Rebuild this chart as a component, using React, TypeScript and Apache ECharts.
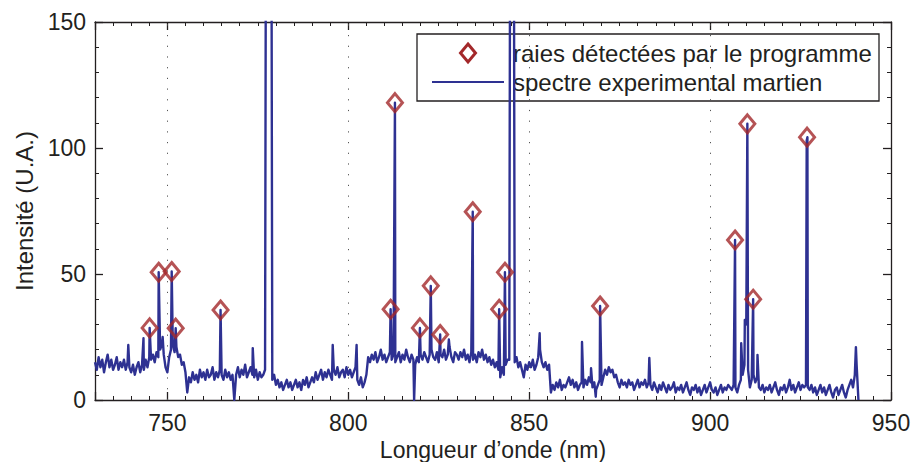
import { useEffect, useRef } from "react";
import * as echarts from "echarts";

// ---------- data ----------
const X_MIN = 730;
const X_MAX = 950;
const Y_MIN = 0;
const Y_MAX = 150;
const xLabelValues = [750, 800, 850, 900, 950];
const xMajorTicks = [730, 750, 800, 850, 900, 950];
const yLabelValues = [0, 50, 100, 150];
const yMajorTicks = [0, 50, 100, 150];
const xGridLines = [750, 800, 850, 900];
const STEP = 0.5; // nm between baseline samples

// baseline of the spectrum, sampled every 0.5 nm from each segment start
const base730 = [15, 12, 17, 13, 16, 11, 15, 18, 13, 16, 12, 14, 17, 12, 15, 13, 16, 12, 15];
const base739 = [13, 11, 14, 10, 13, 15, 11, 14, 12, 16, 13, 17];
const base745 = [16, 18, 15, 19, 17, 20, 22, 18, 13, 11];
const base750 = [17, 20, 22, 19, 21, 17, 18, 14, 15, 11];
const base755 = [3, 9, 7, 11, 8, 10, 7, 12, 9, 11, 8, 12, 9, 10, 13, 8, 11, 9, 12, 10];
const base765 = [8, 12, 9, 11, 8, 10, 0, 10, 13, 9, 12, 10, 14, 9, 11, 13, 10, 9, 12, 8, 11, 9, 10, 12];
const base777 = [400, 400, 400, 8, 10, 6, 8, 5, 7, 4, 6, 8, 5, 7, 4, 6, 8, 5, 7, 4, 8, 6, 9, 5, 7];
const base790 = [9, 7, 11, 8, 10, 12, 8, 11, 9, 12, 10, 8, 12, 10, 13, 9, 11, 12, 9, 13, 10, 12, 9, 11, 13];
const base802 = [8, 6, 9, 5, 7, 10];
const base805 = [17, 15, 18, 16, 19, 15, 17, 20, 16, 18, 15, 17, 19, 16, 18, 15];
const base813 = [17, 19, 15, 18, 16, 20, 17, 15, 18, 16, 14, 17, 15];
const base820 = [18, 16, 19, 17, 15, 18, 20, 17, 16, 19, 15, 18, 17, 20, 16, 18, 21, 17, 15, 19, 18, 16, 19, 17, 20, 16, 18, 15, 19];
const base834 = [16, 18, 15, 19, 17, 20, 16, 18, 15, 17, 14, 16, 13, 15];
const base841 = [12, 9, 13, 10, 14, 16];
const base844 = [16, 400, 400, 15, 17, 13, 15, 12, 9, 14, 12, 15, 13, 16, 12, 14, 17, 20, 15, 13, 15, 12, 14];
const base856 = [3, 6, 4, 7, 5, 8, 4, 6, 5, 7, 9, 6, 8, 5, 7, 4, 6];
const base864 = [7, 5, 8, 6, 9, 7, 5, 7, 4, 6];
const base869 = [8, 6, 9, 12, 10, 13, 11, 12, 9, 10];
const base874 = [7, 5, 8, 6, 7, 5, 8, 6, 7, 4, 6, 8, 5, 7, 6, 8, 5, 7];
const base883 = [6, 4, 7, 5, 3, 6, 4, 7, 5, 3, 6, 4, 5, 7, 3, 5, 4, 6, 3, 5, 7, 4, 2, 5, 4, 6, 3, 5, 2, 4, 6, 3, 5, 7, 4, 3, 5, 2, 4, 6, 3, 5, 4, 6, 5];
const base906 = [4, 6, 5, 3, 6, 8, 10, 14, 30, 12, 5, 8, 10, 7, 9, 5, 4];
const base914 = [6, 3, 5, 4, 6, 3, 5, 7, 4, 2, 5, 4, 6, 3, 5, 8, 4, 6, 3, 5, 7, 4, 6, 5];
const base926 = [6, 5, 4, 6, 3, 5, 2, 4, 6, 3, 5, 2, 4, 6, 3, 1, 4, 5, 2, 4, 6, 3, 1, 4, 6, 8, 5, 10, 14, 0];

const baselineSegments: [number, number[]][] = [
  [730, base730], [739.5, base739], [745.5, base745], [750.5, base750],
  [755.5, base755], [765.5, base765], [777.5, base777], [790, base790],
  [802.5, base802], [805.5, base805], [813.5, base813], [820, base820],
  [834.5, base834], [841.5, base841], [844.5, base844], [856, base856],
  [864.5, base864], [869.5, base869], [874.5, base874], [883.5, base883],
  [906, base906], [914.5, base914], [926.5, base926],
];

// narrow emission lines (and a few dips) of the spectrum: [wavelength nm, intensity]
const emissionLines: [number, number][] = [
  [739.2, 21.8], [743.4, 24.5], [745.1, 28.6], [747.6, 50.7], [748.7, 25],
  [751.2, 51], [752.3, 28.5], [764.7, 35.7], [773.6, 20.6], [795.7, 21.8],
  [802.3, 21.8], [811.7, 36], [812.9, 118], [818.2, 0], [819.8, 28.6],
  [822.8, 45.3], [825.4, 26], [827.8, 24], [834.4, 74.7], [841.7, 36],
  [843.3, 50.7], [852.9, 26.5], [864.6, 23], [867.1, 12.6], [868.4, 1.3],
  [869.6, 37.3], [883.2, 16.7], [906.9, 63.5], [908.6, 22.5], [909.6, 31.8],
  [910.3, 109.6], [911.9, 40], [913.1, 17.9], [926.7, 103], [926.9, 104.3],
  [940.3, 21],
];

// lines detected by the program (diamonds)
const detectedLines: [number, number][] = [
  [745.1, 28.6], [747.6, 50.7], [751.2, 51], [752.3, 28.5], [764.7, 35.7],
  [811.7, 36], [812.9, 118], [819.8, 28.6], [822.8, 45.3], [825.4, 26],
  [834.4, 74.7], [841.7, 36], [843.3, 50.7], [869.6, 37.3], [906.9, 63.5],
  [910.3, 109.6], [911.9, 40], [926.8, 104.3],
];

const legendNames = ["raies détectées par le programme", "spectre experimental martien"];

function buildSpectrum(): [number, number][] {
  const pts: [number, number][] = [];
  for (const [start, vals] of baselineSegments) {
    vals.forEach((v, i) => pts.push([start + i * STEP, v]));
  }
  for (const p of emissionLines) pts.push([p[0], p[1]]);
  pts.sort((a, b) => a[0] - b[0]);
  return pts;
}

// ---------- styles ----------
const FONT = "'Liberation Sans', Arial, Helvetica, sans-serif";
const AXIS = "#231f20";
const BLUE = "#2e3192";
const RED = "#a3282a";

function xAxisDef(pos: "top" | "bottom", major: boolean, labels: boolean) {
  return {
    type: "value",
    position: pos,
    min: X_MIN,
    max: X_MAX,
    ...(major ? {} : { interval: 5 }),
    axisLine: { show: !major, onZero: false, lineStyle: { color: AXIS, width: 1.3 } },
    axisTick: major
      ? { show: true, inside: true, length: 8, customValues: xMajorTicks, lineStyle: { color: AXIS, width: 1.3 } }
      : { show: true, inside: true, length: 4, lineStyle: { color: AXIS, width: 1 } },
    axisLabel: labels
      ? {
          show: true,
          margin: 11,
          fontSize: 23,
          fontFamily: FONT,
          color: AXIS,
          formatter: (v: number) => (xLabelValues.includes(Math.round(v)) && Math.abs(v - Math.round(v)) < 1e-6 ? String(Math.round(v)) : ""),
        }
      : { show: false },
    splitLine: { show: false },
    ...(labels
      ? {
          name: "Longueur d’onde (nm)",
          nameLocation: "middle",
          nameGap: 35,
          nameTextStyle: { fontSize: 23, fontFamily: FONT, color: AXIS },
        }
      : {}),
  };
}

function yAxisDef(pos: "left" | "right", major: boolean, labels: boolean) {
  return {
    type: "value",
    position: pos,
    min: Y_MIN,
    max: Y_MAX,
    ...(major ? {} : { interval: 10 }),
    axisLine: { show: !major, onZero: false, lineStyle: { color: AXIS, width: 1.3 } },
    axisTick: major
      ? { show: true, inside: true, length: 8, customValues: yMajorTicks, lineStyle: { color: AXIS, width: 1.3 } }
      : { show: true, inside: true, length: 4, lineStyle: { color: AXIS, width: 1 } },
    axisLabel: labels
      ? {
          show: true,
          margin: 9,
          fontSize: 23,
          fontFamily: FONT,
          color: AXIS,
          formatter: (v: number) => (yLabelValues.includes(Math.round(v)) && Math.abs(v - Math.round(v)) < 1e-6 ? String(Math.round(v)) : ""),
        }
      : { show: false },
    splitLine: { show: false },
    ...(labels
      ? {
          name: "Intensité (U.A.)",
          nameLocation: "middle",
          nameGap: 58,
          nameRotate: 90,
          nameTextStyle: { fontSize: 24, fontFamily: FONT, color: AXIS },
        }
      : {}),
  };
}

export default function App() {
  const ref = useRef<HTMLDivElement>(null);

  useEffect(() => {
    document.body.style.margin = "0";
    if (!ref.current) return;
    const chart = echarts.init(ref.current, null, { renderer: "svg" });
    const spectrum = buildSpectrum();

    chart.setOption({
      animation: false,
      backgroundColor: "#ffffff",
      grid: { left: 95, right: 22, top: 22, bottom: 62, containLabel: false, outerBoundsMode: "none" },
      xAxis: [
        xAxisDef("bottom", false, true),
        xAxisDef("top", false, false),
        xAxisDef("bottom", true, false),
        xAxisDef("top", true, false),
      ],
      yAxis: [
        yAxisDef("left", false, true),
        yAxisDef("right", false, false),
        yAxisDef("left", true, false),
        yAxisDef("right", true, false),
      ],
      series: [
        {
          type: "line",
          name: "grid",
          data: [],
          z: 1,
          silent: true,
          markLine: {
            silent: true,
            symbol: ["none", "none"],
            label: { show: false },
            lineStyle: { color: "#555", type: [1.2, 9.5], width: 1 },
            data: xGridLines.map((v) => ({ xAxis: v })),
          },
        },
        {
          type: "line",
          name: legendNames[1],
          data: spectrum,
          showSymbol: false,
          symbol: "none",
          lineStyle: { color: BLUE, width: 2.4, join: "round" },
          z: 2,
        },
        {
          type: "scatter",
          name: legendNames[0],
          data: detectedLines,
          symbol: "diamond",
          symbolSize: [15, 18],
          itemStyle: { color: "rgba(255,255,255,0)", borderColor: RED, borderWidth: 3 },
          z: 3,
        },
      ],
      graphic: [
        {
          type: "group",
          z: 100,
          children: [
            {
              type: "rect",
              shape: { x: 417, y: 34, width: 462, height: 67 },
              style: { fill: "#ffffff", stroke: AXIS, lineWidth: 1.3 },
            },
            {
              type: "polygon",
              shape: { points: [[468, 44], [475.5, 53], [468, 62], [460.5, 53]] },
              style: { fill: "none", stroke: RED, lineWidth: 3 },
            },
            {
              type: "line",
              shape: { x1: 432, y1: 82, x2: 504, y2: 82 },
              style: { stroke: BLUE, lineWidth: 2.2 },
            },
            {
              type: "text",
              x: 513,
              y: 53,
              style: { text: legendNames[0], fontSize: 24, fontFamily: FONT, fill: AXIS, verticalAlign: "middle" },
            },
            {
              type: "text",
              x: 513,
              y: 82,
              style: { text: legendNames[1], fontSize: 24, fontFamily: FONT, fill: AXIS, verticalAlign: "middle" },
            },
          ],
        },
      ],
    });

    return () => chart.dispose();
  }, []);

  return <div ref={ref} style={{ width: 913, height: 462 }} />;
}
